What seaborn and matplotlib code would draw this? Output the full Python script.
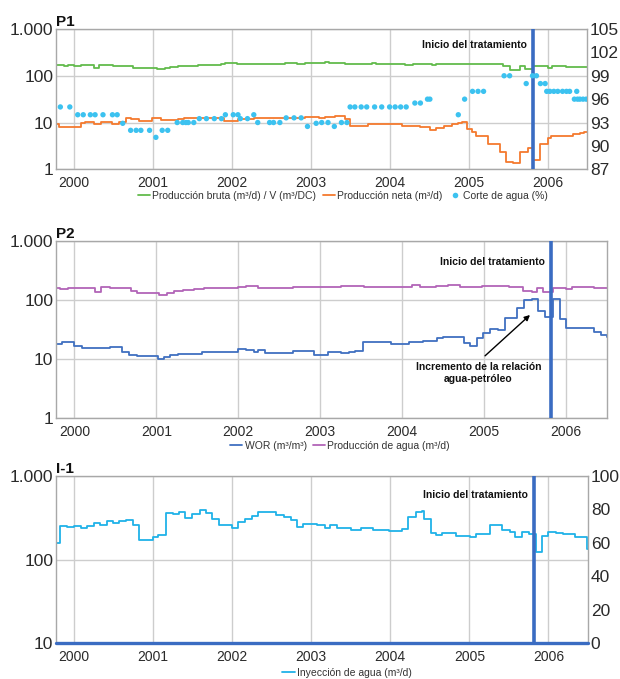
import numpy as np
import matplotlib
matplotlib.use("Agg")
import matplotlib.pyplot as plt
import seaborn as sns
from matplotlib.lines import Line2D
from matplotlib.ticker import FixedLocator, FuncFormatter, NullLocator

# ---------------- data (years as decimal) ----------------
years = [2000, 2001, 2002, 2003, 2004, 2005, 2006]
t_tratamiento = 2005.82

# P1 - Produccion bruta (m3/d)
p1_bruta_t = [1999.78, 1999.87, 1999.93, 2000.00, 2000.09, 2000.25, 2000.32, 2000.50, 2000.75, 2001.05,
              2001.15, 2001.22, 2001.32, 2001.42, 2001.57, 2001.87, 2001.92, 2002.07, 2002.22, 2002.67,
              2002.83, 2002.93, 2003.18, 2003.23, 2003.43, 2003.78, 2003.83, 2004.13, 2004.19, 2004.29,
              2004.46, 2004.54, 2004.59, 2005.00, 2005.34, 2005.44, 2005.52, 2005.65, 2005.72, 2005.81,
              2006.00, 2006.06, 2006.23, 2006.50]
p1_bruta = [170, 158, 172, 160, 172, 150, 172, 162, 145, 140,
            145, 152, 158, 165, 170, 178, 185, 178, 175, 185,
            178, 188, 195, 185, 175, 185, 175, 178, 172, 178,
            175, 172, 178, 178, 175, 160, 136, 160, 140, 160,
            148, 165, 155, 155]

# P1 - Produccion neta (m3/d)
p1_neta_t = [1999.78, 1999.81, 2000.09, 2000.14, 2000.25, 2000.34, 2000.49, 2000.57, 2000.66, 2000.72,
             2000.82, 2000.99, 2001.10, 2001.32, 2001.40, 2001.57, 2001.90, 2002.08, 2002.28, 2002.68,
             2002.93, 2003.11, 2003.18, 2003.31, 2003.43, 2003.50, 2003.73, 2004.16, 2004.39, 2004.51,
             2004.59, 2004.69, 2004.79, 2004.86, 2004.92, 2004.98, 2005.04, 2005.10, 2005.24, 2005.40,
             2005.48, 2005.56, 2005.65, 2005.75, 2005.82, 2005.91, 2006.01, 2006.05, 2006.32, 2006.41,
             2006.46, 2006.50]
p1_neta = [9.3, 8.2, 9.7, 10.5, 9.3, 10.2, 9.3, 10.5, 12.3, 11.8,
           11.0, 12.3, 11.4, 11.8, 12.3, 12.2, 11.0, 11.8, 12.8, 12.2,
           13.4, 12.3, 13.0, 13.6, 11.8, 8.5, 9.2, 8.5, 8.2, 7.0,
           7.5, 8.5, 9.3, 9.8, 10.2, 7.2, 6.2, 5.2, 3.5, 2.3,
           1.45, 1.35, 2.4, 2.8, 1.55, 3.4, 4.7, 5.1, 5.6, 6.0,
           6.4, 6.4]

# P1 - Corte de agua (%)
p1_corte_t = [1999.83, 1999.95, 2000.05, 2000.12, 2000.21, 2000.27, 2000.37, 2000.49, 2000.55, 2000.62,
              2000.72, 2000.79, 2000.85, 2000.96, 2001.04, 2001.12, 2001.19, 2001.31, 2001.38, 2001.42,
              2001.45, 2001.52, 2001.59, 2001.68, 2001.78, 2001.87, 2001.92, 2002.02, 2002.08, 2002.11,
              2002.20, 2002.28, 2002.33, 2002.48, 2002.53, 2002.61, 2002.69, 2002.79, 2002.88, 2002.96,
              2003.07, 2003.14, 2003.22, 2003.30, 2003.39, 2003.46, 2003.50, 2003.56, 2003.64, 2003.71,
              2003.81, 2003.90, 2004.00, 2004.07, 2004.14, 2004.21, 2004.32, 2004.39, 2004.48, 2004.51,
              2004.87, 2004.95, 2005.05, 2005.12, 2005.19, 2005.45, 2005.52, 2005.73, 2005.81, 2005.86,
              2005.91, 2005.97, 2005.99, 2006.03, 2006.08, 2006.13, 2006.19, 2006.24, 2006.28, 2006.37,
              2006.34, 2006.38, 2006.41, 2006.45, 2006.49]
p1_corte = [95, 95, 94, 94, 94, 94, 94, 94, 94, 92.9,
            92, 92, 92, 92, 91.1, 92, 92, 93, 93, 93,
            93, 93, 93.5, 93.5, 93.5, 93.5, 94, 94, 94, 93.5,
            93.5, 94, 93, 93, 93, 93, 93.6, 93.6, 93.6, 92.5,
            92.9, 93, 93, 92.5, 93, 93, 95, 95, 95, 95,
            95, 95, 95, 95, 95, 95, 95.5, 95.5, 96, 96,
            94, 96, 97, 97, 97, 99, 99, 98, 99, 99,
            98, 98, 97, 97, 97, 97, 97, 97, 97, 97,
            96, 96, 96, 96, 96]

# P2 - WOR (m3/m3)
p2_wor_t = [1999.79, 1999.85, 2000.00, 2000.09, 2000.43, 2000.58, 2000.67, 2000.76, 2001.02, 2001.09,
            2001.17, 2001.27, 2001.56, 2002.00, 2002.09, 2002.19, 2002.24, 2002.33, 2002.67, 2002.93,
            2003.09, 2003.25, 2003.35, 2003.43, 2003.52, 2003.86, 2004.08, 2004.26, 2004.43, 2004.50,
            2004.75, 2004.83, 2004.91, 2004.99, 2005.07, 2005.17, 2005.26, 2005.40, 2005.49, 2005.59,
            2005.66, 2005.74, 2005.84, 2005.93, 2006.00, 2006.34, 2006.43, 2006.50]
p2_wor = [18.2, 19.4, 16.6, 15.6, 15.9, 13.1, 11.7, 11.3, 9.9, 11.0,
          11.6, 12.3, 13.3, 14.9, 14.2, 13.3, 14.2, 12.5, 13.7, 12.0,
          13.1, 12.5, 13.3, 14.0, 19.4, 18.2, 19.2, 20.6, 22.5, 24.1,
          19.0, 16.8, 22.5, 27.4, 32.4, 31.0, 49.0, 72.8, 101.0, 104.6,
          65.4, 51.4, 104.6, 47.8, 33.3, 29.2, 25.6, 24.0]

# P2 - Produccion de agua (m3/d)
p2_agua_t = [1999.79, 1999.82, 1999.92, 2000.25, 2000.33, 2000.43, 2000.69, 2000.76, 2001.03, 2001.13,
             2001.22, 2001.32, 2001.46, 2001.58, 2002.00, 2002.09, 2002.24, 2002.67, 2003.25, 2003.54,
             2003.83, 2004.12, 2004.22, 2004.41, 2004.56, 2004.70, 2004.97, 2005.30, 2005.48, 2005.59,
             2005.65, 2005.72, 2005.84, 2006.00, 2006.07, 2006.34, 2006.50]
p2_agua = [158, 155, 163, 139, 169, 158, 143, 130, 122, 134,
           143, 148, 155, 158, 165, 174, 163, 169, 176, 165,
           169, 178, 165, 176, 180, 169, 174, 165, 144, 135,
           162, 139, 162, 152, 165, 160, 160]

# I-1 - Inyeccion de agua (m3/d)
i1_iny_t = [1999.78, 1999.82, 1999.91, 2000.00, 2000.09, 2000.17, 2000.25, 2000.33, 2000.42, 2000.49,
            2000.57, 2000.66, 2000.75, 2000.83, 2001.00, 2001.07, 2001.16, 2001.25, 2001.33, 2001.40,
            2001.50, 2001.59, 2001.67, 2001.75, 2001.84, 2002.00, 2002.07, 2002.16, 2002.25, 2002.33,
            2002.47, 2002.56, 2002.66, 2002.75, 2002.82, 2002.90, 2003.08, 2003.18, 2003.24, 2003.33,
            2003.50, 2003.63, 2003.78, 2003.98, 2004.15, 2004.23, 2004.32, 2004.40, 2004.43, 2004.51,
            2004.58, 2004.66, 2004.83, 2005.01, 2005.08, 2005.26, 2005.41, 2005.51, 2005.58, 2005.67,
            2005.76, 2005.84, 2005.92, 2006.00, 2006.09, 2006.19, 2006.33, 2006.49, 2006.50]
i1_iny = [157, 253, 246, 253, 237, 253, 276, 260, 290, 276,
          290, 297, 263, 171, 189, 198, 363, 353, 370, 319,
          356, 393, 363, 303, 260, 237, 283, 303, 333, 376,
          370, 342, 327, 300, 246, 270, 263, 237, 258, 237,
          229, 237, 229, 222, 230, 323, 374, 385, 303, 208,
          198, 208, 192, 187, 201, 263, 227, 216, 187, 216,
          201, 125, 192, 216, 210, 205, 187, 134, 134]

# I-1 - second series on right axis (flat at 0)
i1_base_t = [1999.77, 2006.50]
i1_base = [0, 0]

assert len(p1_bruta_t) == len(p1_bruta)
assert len(p1_neta_t) == len(p1_neta)
assert len(p1_corte_t) == len(p1_corte)
assert len(p2_wor_t) == len(p2_wor)
assert len(p2_agua_t) == len(p2_agua)
assert len(i1_iny_t) == len(i1_iny)

# ---------------- style ----------------
sns.set_theme(style="white")
plt.rcParams["font.family"] = ["Liberation Sans", "DejaVu Sans"]
NARROW = ["Liberation Sans Narrow", "Liberation Sans", "DejaVu Sans"]

C_GREEN = "#62bb4c"
C_ORANGE = "#f47a2e"
C_DOTS = "#3cc2f0"
C_TREAT = "#3a6cc2"
C_WOR = "#4070c0"
C_AGUA = "#b264b8"
C_INY = "#20b2e8"
C_GRID = "#cdcdcd"
C_SPINE = "#a8a8a8"
C_TXT = "#2a2a2a"

W, H = 620, 679
fig = plt.figure(figsize=(W / 100, H / 100), dpi=100)


def rect(l, t, r, b):
    return [l / W, 1 - b / H, (r - l) / W, (b - t) / H]


ax1 = fig.add_axes(rect(56, 29, 587, 169.3))
ax2 = fig.add_axes(rect(56, 241, 607, 418.3))
ax3 = fig.add_axes(rect(56, 476, 588, 643.3))

fmt_miles = FuncFormatter(lambda v, p: f"{int(round(v)):,}".replace(",", "."))


def base_axes(ax, ylim, yticks, title, treat_dy):
    ax.set_xlim(1999.775, 2006.50)
    ax.set_yscale("log")
    ax.set_ylim(*ylim)
    ax.yaxis.set_major_locator(FixedLocator(yticks))
    ax.yaxis.set_minor_locator(NullLocator())
    ax.yaxis.set_major_formatter(fmt_miles)
    ax.set_xticks(years)
    ax.set_xticklabels([str(y) for y in years])
    ax.tick_params(axis="x", length=0, pad=5, labelsize=10, labelcolor=C_TXT)
    ax.tick_params(axis="y", length=0, pad=2, labelsize=12.5, labelcolor=C_TXT)
    ax.grid(True, color=C_GRID, lw=1)
    ax.set_axisbelow(True)
    for s in ax.spines.values():
        s.set_color(C_SPINE)
        s.set_linewidth(1)
    ax.set_xlabel("")
    ax.set_ylabel("")
    ax.text(0.0, 1.0, title, transform=ax.transAxes, ha="left", va="bottom",
            fontsize=11, fontweight="bold", color="#111111")
    ax.axvline(t_tratamiento, color=C_TREAT, lw=2.6, zorder=5)
    ax.annotate("Inicio del tratamiento", xy=(t_tratamiento, 1.0),
                xycoords=("data", "axes fraction"), xytext=(-6, -treat_dy),
                textcoords="offset pixels", ha="right", va="center",
                fontsize=7.5, fontweight="bold", family=NARROW, color="#111111")


def right_axis(ax, ylim, yticks):
    axr = ax.twinx()
    axr.set_ylim(*ylim)
    axr.set_yticks(yticks)
    axr.tick_params(axis="y", length=0, pad=2, labelsize=12.5, labelcolor=C_TXT)
    axr.grid(False)
    for s in axr.spines.values():
        s.set_visible(False)
    axr.set_ylabel("")
    return axr


# ---------------- P1 ----------------
sns.lineplot(x=p1_bruta_t, y=p1_bruta, ax=ax1, drawstyle="steps-post",
             color=C_GREEN, lw=1.3, estimator=None, sort=False)
sns.lineplot(x=p1_neta_t, y=p1_neta, ax=ax1, drawstyle="steps-post",
             color=C_ORANGE, lw=1.3, estimator=None, sort=False)
base_axes(ax1, (1, 1000), [1, 10, 100, 1000], "P1", 16)
ax1r = right_axis(ax1, (87, 105), [87, 90, 93, 96, 99, 102, 105])
sns.scatterplot(x=p1_corte_t, y=p1_corte, ax=ax1r, color=C_DOTS, s=15,
                edgecolor="none", legend=False)
ax1r.set_ylabel("")

fig.legend(handles=[Line2D([], [], color=C_GREEN, lw=1.3),
                    Line2D([], [], color=C_ORANGE, lw=1.3),
                    Line2D([], [], color=C_DOTS, marker="o", ls="none", ms=4, mec="none")],
           labels=["Producción bruta (m³/d) / V (m³/DC)", "Producción neta (m³/d)",
                   "Corte de agua (%)"],
           loc="center", bbox_to_anchor=(343 / W, 1 - 196 / H), ncol=3, frameon=False,
           handlelength=1.2, handletextpad=0.2, columnspacing=0.6,
           prop={"family": NARROW, "size": 7.5}, labelcolor="#333333")

# ---------------- P2 ----------------
sns.lineplot(x=p2_wor_t, y=p2_wor, ax=ax2, drawstyle="steps-post",
             color=C_WOR, lw=1.3, estimator=None, sort=False)
sns.lineplot(x=p2_agua_t, y=p2_agua, ax=ax2, drawstyle="steps-post",
             color=C_AGUA, lw=1.3, estimator=None, sort=False)
base_axes(ax2, (1, 1000), [1, 10, 100, 1000], "P2", 21)
ax2.annotate("Incremento de la relación\nagua-petróleo", xy=(2005.56, 56),
             xytext=(2004.93, 9.0), ha="center", va="top", fontsize=7.5,
             fontweight="bold", family=NARROW, color="#111111", linespacing=1.3,
             arrowprops=dict(arrowstyle="-|>", color="black", lw=1,
                             mutation_scale=8, relpos=(0.5, 1.0),
                             shrinkA=3, shrinkB=0))

fig.legend(handles=[Line2D([], [], color=C_WOR, lw=1.3),
                    Line2D([], [], color=C_AGUA, lw=1.3)],
           labels=["WOR (m³/m³)", "Producción de agua (m³/d)"],
           loc="center", bbox_to_anchor=(340 / W, 1 - 446 / H), ncol=2, frameon=False,
           handlelength=1.2, handletextpad=0.2, columnspacing=0.6,
           prop={"family": NARROW, "size": 7.5}, labelcolor="#333333")

# ---------------- I-1 ----------------
sns.lineplot(x=i1_iny_t, y=i1_iny, ax=ax3, drawstyle="steps-post",
             color=C_INY, lw=1.3, estimator=None, sort=False)
base_axes(ax3, (10, 1000), [10, 100, 1000], "I-1", 19)
ax3r = right_axis(ax3, (0, 100), [0, 20, 40, 60, 80, 100])
ln = sns.lineplot(x=i1_base_t, y=i1_base, ax=ax3r, color=C_TREAT, lw=2.4,
                  estimator=None, sort=False)
for l in ax3r.get_lines():
    l.set_clip_on(False)
ax3r.set_ylabel("")

fig.legend(handles=[Line2D([], [], color=C_INY, lw=1.3)],
           labels=["Inyección de agua (m³/d)"],
           loc="center", bbox_to_anchor=(347 / W, 1 - 673 / H), ncol=1, frameon=False,
           handlelength=1.2, handletextpad=0.2,
           prop={"family": NARROW, "size": 7.5}, labelcolor="#333333")

fig.savefig("out.png", dpi=100)
